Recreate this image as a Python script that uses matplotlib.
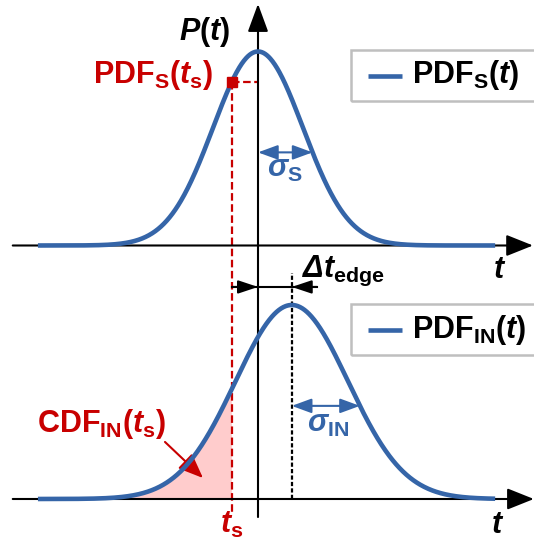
import numpy as np
import matplotlib
matplotlib.use("Agg")
import matplotlib.pyplot as plt
from matplotlib.patches import Rectangle

plt.rcParams['font.family'] = ['Liberation Sans', 'DejaVu Sans']
plt.rcParams['mathtext.fontset'] = 'custom'
plt.rcParams['mathtext.rm'] = 'Liberation Sans:bold'
plt.rcParams['mathtext.it'] = 'Liberation Sans:italic:bold'
plt.rcParams['mathtext.bf'] = 'Liberation Sans:bold'
# slanted slot, used for the capital Greek Delta
plt.rcParams['mathtext.sf'] = 'Liberation Sans:italic:bold'

# --- model parameters (time in units of sigma_S) ---
mu_s = 0.0          # mean of the sampling-clock PDF
sigma_s = 1.0       # std of the sampling-clock PDF
mu_in = 0.75        # mean of the input-edge PDF
sigma_in = 1.25     # std of the input-edge PDF
t_sample = -0.58    # sampling instant t_s
peak = 1.0          # drawn peak height of each PDF
sigma_mark_level = 0.48   # relative height at which sigma arrows are drawn

# curve extent and layout of the two panels
t_lo, t_hi = -4.89, 5.27
base_top, base_bot = 1.5387, 0.232

BLUE = '#3565A8'
RED = '#C80000'
PINK = '#FFCCCC'
GREY = '#BFBFBF'

def gauss(t, mu, sig):
    return peak * np.exp(-0.5 * ((t - mu) / sig) ** 2)

fig = plt.figure(figsize=(5.34, 5.44), dpi=100)
ax = fig.add_axes([0, 0, 1, 1])
ax.set_xlim(-258 / 45, 276 / 45)
ax.set_ylim(0, 544 / 194)
ax.axis('off')

t = np.linspace(t_lo, t_hi, 800)
pdf_s = gauss(t, mu_s, sigma_s)
pdf_in = gauss(t, mu_in, sigma_in)

# CDF area under the input PDF up to t_s
mask = t <= t_sample
ax.fill_between(t[mask], base_bot, base_bot + pdf_in[mask], color=PINK, lw=0, zorder=1)

def arrow(x0, y0, x1, y1, color='k', lw=1.5, style='-|>', hl=1.5, hw=0.55, ms=10, z=3):
    ax.annotate('', xy=(x1, y1), xytext=(x0, y0),
                arrowprops=dict(arrowstyle=f'{style},head_length={hl},head_width={hw}',
                                color=color, lw=lw, shrinkA=0, shrinkB=0,
                                mutation_scale=ms), zorder=z)

# axes
arrow(-5.45, base_top, 6.11, base_top, hl=1.5, hw=0.6, ms=11)
arrow(-5.45, base_bot, 6.13, base_bot, hl=1.5, hw=0.6, ms=11)
arrow(0, 0.139, 0, 2.784, hl=1.5, hw=0.55, ms=11.5)

# curves
ax.plot(t, base_top + pdf_s, color=BLUE, lw=3.3, zorder=4, solid_capstyle='butt')
ax.plot(t, base_bot + pdf_in, color=BLUE, lw=3.3, zorder=4, solid_capstyle='butt')

# sampling instant markers
y_sq = base_top + gauss(t_sample, mu_s, sigma_s)
ax.plot([t_sample, t_sample], [y_sq, 0.165], color=RED, lw=1.6,
        ls=(0, (3.4, 1.6)), zorder=2)
ax.plot([t_sample, 0], [y_sq, y_sq], color=RED, lw=1.6, ls=(0, (3.4, 1.6)), zorder=2)
ax.plot([t_sample], [y_sq], marker='s', ms=6.5, color=RED, zorder=5)

# mean of the input PDF
ax.plot([mu_in, mu_in], [base_bot, 1.397], color='k', lw=1.6, ls=(0, (1.9, 1.0)), zorder=2)

# delta t_edge arrows
y_dt = 1.325
ax.plot([t_sample, 1.311], [y_dt, y_dt], color='k', lw=1.5, zorder=3)
arrow(t_sample, y_dt, 0, y_dt, hl=1.5, hw=0.5, ms=8)
arrow(1.311, y_dt, mu_in, y_dt, hl=1.5, hw=0.5, ms=8)

# sigma arrows
k = np.sqrt(-2 * np.log(sigma_mark_level))
arrow(mu_s, base_top + sigma_mark_level * peak, mu_s + k * sigma_s,
      base_top + sigma_mark_level * peak, color=BLUE, style='<|-|>', hl=1.5, hw=0.55, ms=8)
arrow(mu_in, base_bot + sigma_mark_level * peak, mu_in + k * sigma_in,
      base_bot + sigma_mark_level * peak, color=BLUE, style='<|-|>', hl=1.5, hw=0.55, ms=8)

# CDF pointer
arrow(-2.067, 0.526, -1.222, 0.340, color=RED, hl=1.6, hw=0.65, ms=9.5)

FS = 22
ax.text(-1.178, 2.60, r'$P(t)$', fontsize=FS, ha='center', va='baseline', color='k')
ax.text(-1.0, 2.376, r'$\mathrm{PDF}_{\mathrm{S}}(t_{\mathrm{s}})$', fontsize=FS,
        ha='right', va='baseline', color=RED)
ax.text(0.2, 1.892, r'$\sigma_{\mathrm{S}}$', fontsize=FS, ha='left', va='baseline', color=BLUE)
ax.text(1.089, 0.577, r'$\sigma_{\mathrm{IN}}$', fontsize=FS, ha='left', va='baseline', color=BLUE)
ax.text(0.978, 1.376, r'$\mathsf{Δ}\mathit{t}_{\mathrm{edge}}$', fontsize=FS, ha='left',
        va='baseline', color='k')
ax.text(5.38, 1.371, r'$t$', fontsize=FS, ha='center', va='baseline', color='k')
ax.text(5.33, 0.0567, r'$t$', fontsize=FS, ha='center', va='baseline', color='k')
ax.text(t_sample, 0.0567, r'$t_{\mathrm{s}}$', fontsize=FS, ha='center', va='baseline', color=RED)
ax.text(-4.91, 0.577, r'$\mathrm{CDF}_{\mathrm{IN}}(t_{\mathrm{s}})$', fontsize=FS,
        ha='left', va='baseline', color=RED)

# legend boxes
for (y0, y1, ly, ty, lab) in [(2.284, 2.546, 2.412, 2.376, r'$\mathrm{PDF}_{\mathrm{S}}(t)$'),
                              (0.974, 1.237, 1.103, 1.062, r'$\mathrm{PDF}_{\mathrm{IN}}(t)$')]:
    ax.add_patch(Rectangle((2.067, y0), 4.5, y1 - y0, fill=False, ec=GREY, lw=1.8, zorder=3))
    ax.plot([2.444, 3.2], [ly, ly], color=BLUE, lw=3.3, solid_capstyle='butt', zorder=4)
    ax.text(3.42, ty, lab, fontsize=FS, ha='left', va='baseline', color='k')

fig.savefig('out.png', dpi=100)
